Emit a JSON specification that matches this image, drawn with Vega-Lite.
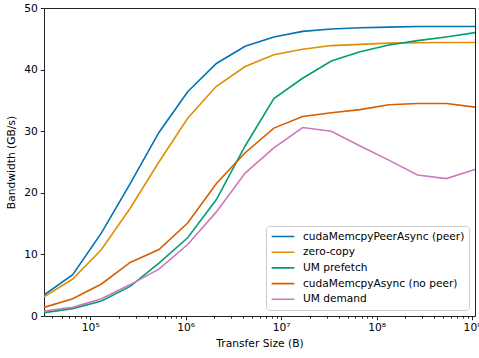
{
  "$schema": "https://vega.github.io/schema/vega-lite/v6.json",
  "autosize": "none",
  "padding": {"left": 44, "top": 8, "right": 4, "bottom": 42},
  "width": 431,
  "height": 308,
  "config": {
    "font": "DejaVu Sans",
    "view": {"stroke": "#222", "strokeWidth": 1}
  },
  "datasets": {
    "bw": [
      {"size": 32768, "series": "cudaMemcpyPeerAsync (peer)", "bw": 3.4},
      {"size": 65536, "series": "cudaMemcpyPeerAsync (peer)", "bw": 6.7},
      {"size": 131072, "series": "cudaMemcpyPeerAsync (peer)", "bw": 13.5},
      {"size": 262144, "series": "cudaMemcpyPeerAsync (peer)", "bw": 21.5},
      {"size": 524288, "series": "cudaMemcpyPeerAsync (peer)", "bw": 29.8},
      {"size": 1048576, "series": "cudaMemcpyPeerAsync (peer)", "bw": 36.4},
      {"size": 2097152, "series": "cudaMemcpyPeerAsync (peer)", "bw": 41.0},
      {"size": 4194304, "series": "cudaMemcpyPeerAsync (peer)", "bw": 43.8},
      {"size": 8388608, "series": "cudaMemcpyPeerAsync (peer)", "bw": 45.3},
      {"size": 16777216, "series": "cudaMemcpyPeerAsync (peer)", "bw": 46.2},
      {"size": 33554432, "series": "cudaMemcpyPeerAsync (peer)", "bw": 46.6},
      {"size": 67108864, "series": "cudaMemcpyPeerAsync (peer)", "bw": 46.8},
      {"size": 134217728, "series": "cudaMemcpyPeerAsync (peer)", "bw": 46.9},
      {"size": 268435456, "series": "cudaMemcpyPeerAsync (peer)", "bw": 47.0},
      {"size": 536870912, "series": "cudaMemcpyPeerAsync (peer)", "bw": 47.0},
      {"size": 1073741824, "series": "cudaMemcpyPeerAsync (peer)", "bw": 47.0},
      {"size": 32768, "series": "zero-copy", "bw": 3.1},
      {"size": 65536, "series": "zero-copy", "bw": 6.0},
      {"size": 131072, "series": "zero-copy", "bw": 10.8},
      {"size": 262144, "series": "zero-copy", "bw": 17.5},
      {"size": 524288, "series": "zero-copy", "bw": 25.0},
      {"size": 1048576, "series": "zero-copy", "bw": 32.1},
      {"size": 2097152, "series": "zero-copy", "bw": 37.3},
      {"size": 4194304, "series": "zero-copy", "bw": 40.5},
      {"size": 8388608, "series": "zero-copy", "bw": 42.4},
      {"size": 16777216, "series": "zero-copy", "bw": 43.3},
      {"size": 33554432, "series": "zero-copy", "bw": 43.9},
      {"size": 67108864, "series": "zero-copy", "bw": 44.1},
      {"size": 134217728, "series": "zero-copy", "bw": 44.3},
      {"size": 268435456, "series": "zero-copy", "bw": 44.35},
      {"size": 536870912, "series": "zero-copy", "bw": 44.4},
      {"size": 1073741824, "series": "zero-copy", "bw": 44.4},
      {"size": 32768, "series": "UM prefetch", "bw": 0.55},
      {"size": 65536, "series": "UM prefetch", "bw": 1.2},
      {"size": 131072, "series": "UM prefetch", "bw": 2.45},
      {"size": 262144, "series": "UM prefetch", "bw": 4.8},
      {"size": 524288, "series": "UM prefetch", "bw": 8.6},
      {"size": 1048576, "series": "UM prefetch", "bw": 12.7},
      {"size": 2097152, "series": "UM prefetch", "bw": 18.9},
      {"size": 4194304, "series": "UM prefetch", "bw": 27.6},
      {"size": 8388608, "series": "UM prefetch", "bw": 35.3},
      {"size": 16777216, "series": "UM prefetch", "bw": 38.6},
      {"size": 33554432, "series": "UM prefetch", "bw": 41.4},
      {"size": 67108864, "series": "UM prefetch", "bw": 42.9},
      {"size": 134217728, "series": "UM prefetch", "bw": 44.0},
      {"size": 268435456, "series": "UM prefetch", "bw": 44.7},
      {"size": 536870912, "series": "UM prefetch", "bw": 45.3},
      {"size": 1073741824, "series": "UM prefetch", "bw": 46.0},
      {"size": 32768, "series": "cudaMemcpyAsync (no peer)", "bw": 1.4},
      {"size": 65536, "series": "cudaMemcpyAsync (no peer)", "bw": 2.8},
      {"size": 131072, "series": "cudaMemcpyAsync (no peer)", "bw": 5.2},
      {"size": 262144, "series": "cudaMemcpyAsync (no peer)", "bw": 8.7},
      {"size": 524288, "series": "cudaMemcpyAsync (no peer)", "bw": 10.8},
      {"size": 1048576, "series": "cudaMemcpyAsync (no peer)", "bw": 15.1},
      {"size": 2097152, "series": "cudaMemcpyAsync (no peer)", "bw": 21.5},
      {"size": 4194304, "series": "cudaMemcpyAsync (no peer)", "bw": 26.5},
      {"size": 8388608, "series": "cudaMemcpyAsync (no peer)", "bw": 30.5},
      {"size": 16777216, "series": "cudaMemcpyAsync (no peer)", "bw": 32.4},
      {"size": 33554432, "series": "cudaMemcpyAsync (no peer)", "bw": 33.0},
      {"size": 67108864, "series": "cudaMemcpyAsync (no peer)", "bw": 33.5},
      {"size": 134217728, "series": "cudaMemcpyAsync (no peer)", "bw": 34.3},
      {"size": 268435456, "series": "cudaMemcpyAsync (no peer)", "bw": 34.5},
      {"size": 536870912, "series": "cudaMemcpyAsync (no peer)", "bw": 34.5},
      {"size": 1073741824, "series": "cudaMemcpyAsync (no peer)", "bw": 33.9},
      {"size": 32768, "series": "UM demand", "bw": 0.8},
      {"size": 65536, "series": "UM demand", "bw": 1.4},
      {"size": 131072, "series": "UM demand", "bw": 2.8},
      {"size": 262144, "series": "UM demand", "bw": 5.1},
      {"size": 524288, "series": "UM demand", "bw": 7.6},
      {"size": 1048576, "series": "UM demand", "bw": 11.6},
      {"size": 2097152, "series": "UM demand", "bw": 16.9},
      {"size": 4194304, "series": "UM demand", "bw": 23.2},
      {"size": 8388608, "series": "UM demand", "bw": 27.3},
      {"size": 16777216, "series": "UM demand", "bw": 30.6},
      {"size": 33554432, "series": "UM demand", "bw": 30.0},
      {"size": 67108864, "series": "UM demand", "bw": 27.6},
      {"size": 134217728, "series": "UM demand", "bw": 25.3},
      {"size": 268435456, "series": "UM demand", "bw": 22.9},
      {"size": 536870912, "series": "UM demand", "bw": 22.3},
      {"size": 1073741824, "series": "UM demand", "bw": 23.8}
    ]
  },
  "data": {"name": "bw"},
  "mark": {"type": "line", "strokeWidth": 1.6, "clip": true},
  "encoding": {
    "x": {
      "field": "size",
      "type": "quantitative",
      "scale": {"type": "log", "domain": [32768, 1073741824], "nice": false},
      "axis": {
        "title": "Transfer Size (B)",
        "titleFontSize": 10.7,
        "titleFontWeight": "normal",
        "titleColor": "#000",
        "titlePadding": 6,
        "grid": false,
        "domain": false,
        "values": [40000, 50000, 60000, 70000, 80000, 90000, 100000, 200000, 300000, 400000, 500000, 600000, 700000, 800000, 900000, 1000000, 2000000, 3000000, 4000000, 5000000, 6000000, 7000000, 8000000, 9000000, 10000000, 20000000, 30000000, 40000000, 50000000, 60000000, 70000000, 80000000, 90000000, 100000000, 200000000, 300000000, 400000000, 500000000, 600000000, 700000000, 800000000, 900000000, 1000000000],
        "labelExpr": "datum.value == 100000 ? '10⁵' : datum.value == 1000000 ? '10⁶' : datum.value == 10000000 ? '10⁷' : datum.value == 100000000 ? '10⁸' : datum.value == 1000000000 ? '10⁹' : ''",
        "labelFontSize": 10.7,
        "labelColor": "#000",
        "labelPadding": 3,
        "labelFlush": false,
        "labelOverlap": false,
        "tickColor": "#222",
        "tickSize": {"condition": {"test": "datum.value == 100000 || datum.value == 1000000 || datum.value == 10000000 || datum.value == 100000000 || datum.value == 1000000000", "value": 3.7}, "value": 2.1}
      }
    },
    "y": {
      "field": "bw",
      "type": "quantitative",
      "scale": {"domain": [0, 50], "nice": false},
      "axis": {
        "title": "Bandwidth (GB/s)",
        "titleFontSize": 10.7,
        "titleFontWeight": "normal",
        "titleColor": "#000",
        "titlePadding": 7,
        "grid": false,
        "domain": false,
        "values": [0, 10, 20, 30, 40, 50],
        "labelFontSize": 10.7,
        "labelColor": "#000",
        "labelPadding": 3,
        "labelFlush": false,
        "tickColor": "#222",
        "tickSize": 3.7
      }
    },
    "color": {
      "field": "series",
      "type": "nominal",
      "scale": {
        "domain": ["cudaMemcpyPeerAsync (peer)", "zero-copy", "UM prefetch", "cudaMemcpyAsync (no peer)", "UM demand"],
        "range": ["#0173b2", "#de8f05", "#029e73", "#d55e00", "#cc78bc"]
      },
      "legend": {
        "title": null,
        "orient": "bottom-right",
        "offset": 6,
        "symbolType": "stroke",
        "symbolSize": 515,
        "symbolStrokeWidth": 1.6,
        "labelFontSize": 10.6,
        "labelColor": "#000",
        "labelOffset": 7.5,
        "labelLimit": 300,
        "clipHeight": 12,
        "rowPadding": 3.7,
        "padding": 4.5,
        "strokeColor": "#ccc",
        "fillColor": "#fff",
        "cornerRadius": 3
      }
    }
  }
}
